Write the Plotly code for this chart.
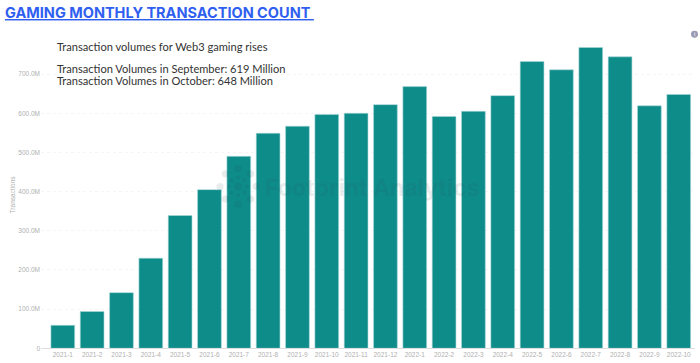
import math
import plotly.graph_objects as go

W, H = 700, 363
months = ["2021-1","2021-2","2021-3","2021-4","2021-5","2021-6","2021-7","2021-8","2021-9","2021-10","2021-11","2021-12",
          "2022-1","2022-2","2022-3","2022-4","2022-5","2022-6","2022-7","2022-8","2022-9","2022-10"]
transactions = [58.7e6,94e6,142e6,230e6,339e6,405e6,490e6,549e6,567e6,597e6,600e6,622e6,
                668e6,592e6,605e6,645e6,732e6,711e6,768e6,744e6,619e6,648e6]
tick_vals = [0,100e6,200e6,300e6,400e6,500e6,600e6,700e6]
tick_text = ["0","100.0M","200.0M","300.0M","400.0M","500.0M","600.0M","700.0M"]
title = "GAMING MONTHLY TRANSACTION COUNT&nbsp;"
notes = ["Transaction volumes for Web3 gaming rises",
         "Transaction Volumes in September: 619 Million",
         "Transaction Volumes in October: 648 Million"]
watermark = "Footprint Analytics"

L, R, T, B = 41, 695, 30, 351.2
px_per = 39.5 / 100e6

fig = go.Figure(go.Bar(
    x=list(range(len(months))), y=transactions, width=0.81,
    marker=dict(color="#0e8c8a", line=dict(color="#a9d8d6", width=0.6)),
))

def px(x): return x / W
def py(y): return 1 - y / H

anns = [
    dict(text="<u>%s</u>" % title, x=px(3), y=py(13), xanchor="left", yanchor="middle",
         font=dict(family="Inter", size=14.5, color="#2f5ff0", weight=700)),
    dict(text=notes[0], x=px(55), y=py(47), xanchor="left", yanchor="middle",
         font=dict(family="Lato", size=11.1, color="#333333")),
    dict(text=notes[1], x=px(55), y=py(69.5), xanchor="left", yanchor="middle",
         font=dict(family="Lato", size=11.1, color="#333333")),
    dict(text=notes[2], x=px(55), y=py(81), xanchor="left", yanchor="middle",
         font=dict(family="Lato", size=11.1, color="#333333")),
    dict(text=watermark, x=px(263), y=py(190), xanchor="left", yanchor="middle",
         font=dict(family="Inter", size=23, color="rgba(40,70,80,0.11)", weight=700)),
    dict(text="Transactions", x=px(12), y=py(196), xanchor="center", yanchor="middle", textangle=-90,
         font=dict(family="Liberation Sans", size=6.5, color="#b0b0b0")),
    dict(text="i", x=px(694.5), y=py(34.5), xanchor="center", yanchor="middle",
         font=dict(family="Liberation Sans", size=6, color="#ffffff")),
]
for a in anns:
    a.update(xref="paper", yref="paper", showarrow=False, xshift=0, yshift=0)

shapes = []
cx, cy = 238, 188
for i in range(8):
    ang = math.radians(45 * i)
    rx, ry = cx + 18 * math.cos(ang), cy + 18 * math.sin(ang)
    shapes.append(dict(type="circle", xref="paper", yref="paper",
                       x0=px(rx - 3.6), x1=px(rx + 3.6), y0=py(ry + 3.6), y1=py(ry - 3.6),
                       fillcolor="rgba(40,70,80,0.10)", line_width=0))
    mx, my = cx + 9 * math.cos(ang), cy + 9 * math.sin(ang)
    shapes.append(dict(type="circle", xref="paper", yref="paper",
                       x0=px(mx - 2), x1=px(mx + 2), y0=py(my + 2), y1=py(my - 2),
                       fillcolor="rgba(40,70,80,0.10)", line_width=0))
shapes.append(dict(type="circle", xref="paper", yref="paper",
                   x0=px(cx - 4), x1=px(cx + 4), y0=py(cy + 4), y1=py(cy - 4),
                   fillcolor="rgba(40,70,80,0.10)", line_width=0))
shapes.append(dict(type="circle", xref="paper", yref="paper",
                   x0=px(691), x1=px(698), y0=py(38), y1=py(31),
                   fillcolor="#9a9ab4", line_width=0))

x0 = (L - 62.8) / 29.33
x1 = (R - 62.8) / 29.33
fig.update_layout(
    width=W, height=H, autosize=False,
    margin=dict(l=0, r=0, t=0, b=0, pad=0),
    paper_bgcolor="white", plot_bgcolor="white",
    showlegend=False, annotations=anns, shapes=shapes, bargap=0.19,
    xaxis=dict(domain=[L / W, R / W], range=[x0, x1], tickmode="array",
               tickvals=list(range(len(months))), ticktext=months, ticks="", ticklen=0,
               tickfont=dict(family="Liberation Sans", size=6.5, color="#b0b0b0"),
               showgrid=False, zeroline=False, showline=True, linecolor="#dddddd", linewidth=1,
               tickangle=0, fixedrange=True, anchor="y"),
    yaxis=dict(domain=[1 - B / H, 1 - T / H], range=[0, (B - T) / px_per], tickmode="array",
               tickvals=tick_vals, ticktext=tick_text, ticks="",
               tickfont=dict(family="Liberation Sans", size=6.5, color="#b0b0b0"),
               showgrid=True, gridcolor="#f5f5f5", griddash="dot", gridwidth=1,
               zeroline=False, showline=False, fixedrange=True, anchor="x"),
)
fig.write_html("out.html", config=dict(displayModeBar=False),
               post_script="document.body.style.margin='0';document.documentElement.style.overflow='hidden';")
